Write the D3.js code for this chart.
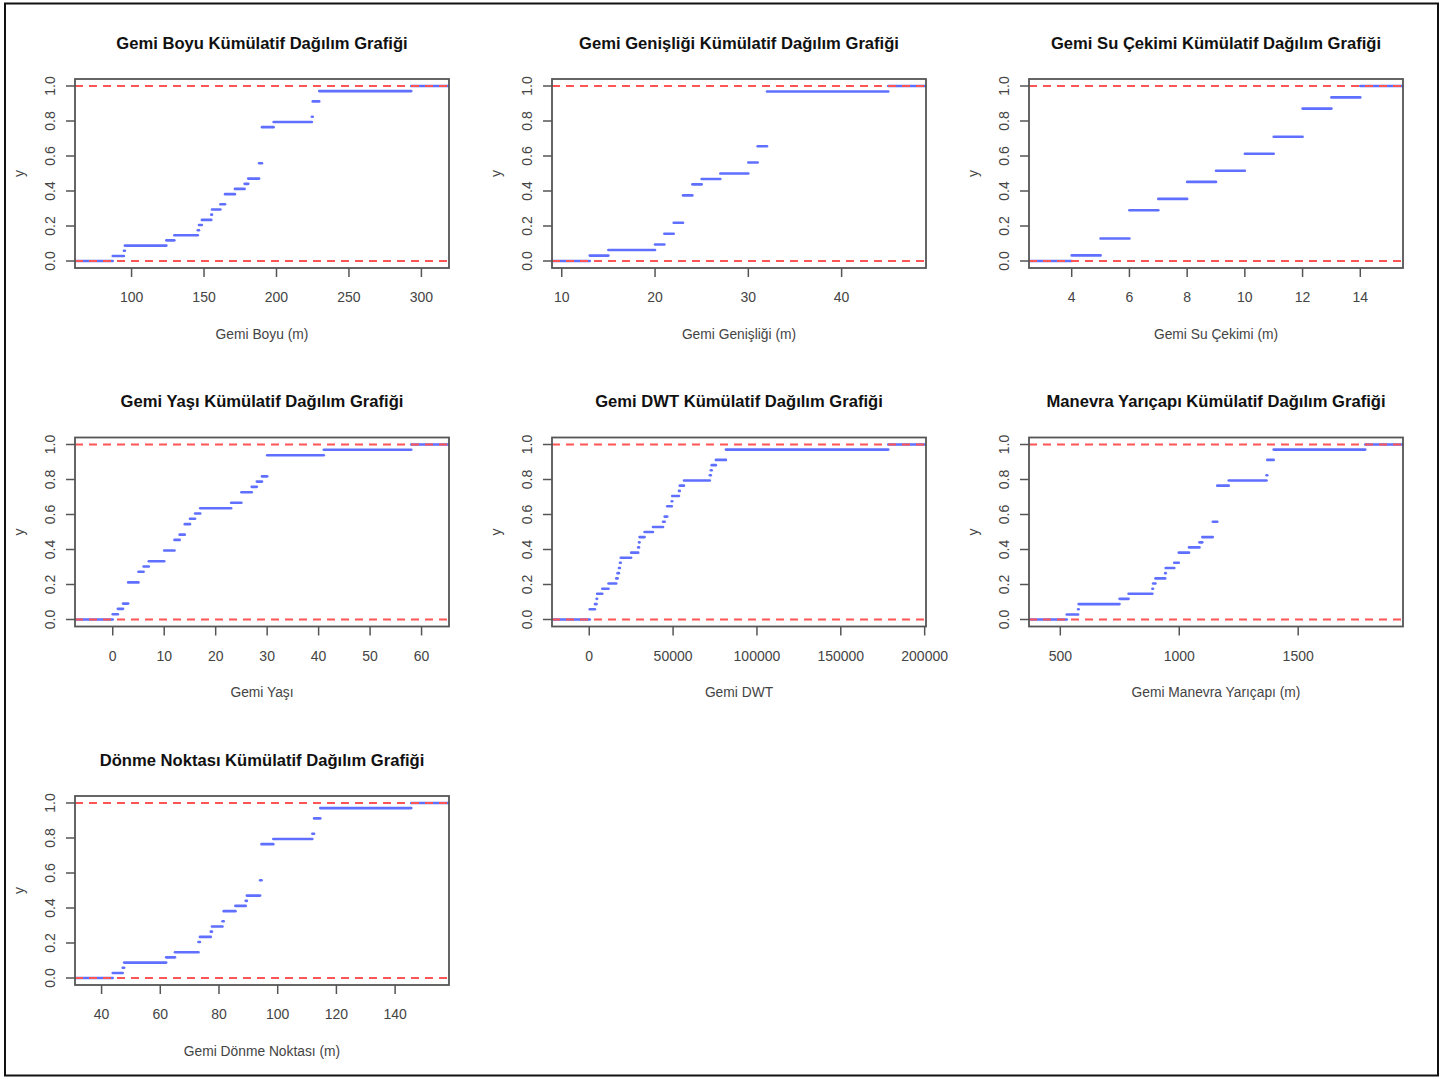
<!DOCTYPE html>
<html>
<head>
<meta charset="utf-8">
<script src="https://cdn.jsdelivr.net/npm/d3@7"></script>
<style>
  body { margin: 0; background: #fff; }
  svg { display: block; font-family: "Liberation Sans", Arial, sans-serif; }
</style>
</head>
<body>
<svg id="chart" width="1451" height="1079"></svg>
<script>
// ECDF knots (x) and cumulative levels (y)
const boyuX = [87, 94.7, 95.4, 124, 129.5, 145.7, 146.5, 148.5, 155, 155.5, 161.3, 164.5, 171.3, 178, 180.5, 188, 190, 198, 224.4, 225, 229.5, 293];
const boyuY = [0.029, 0.059, 0.088, 0.118, 0.147, 0.176, 0.206, 0.235, 0.265, 0.294, 0.324, 0.382, 0.412, 0.441, 0.471, 0.559, 0.765, 0.794, 0.824, 0.912, 0.971, 1];
const boyuTicks = [100, 150, 200, 250, 300];

const genislikX = [13, 15, 20, 21, 22, 23, 24, 25, 27, 30, 31, 32, 45];
const genislikY = [0.031, 0.063, 0.094, 0.156, 0.219, 0.375, 0.438, 0.469, 0.5, 0.563, 0.656, 0.969, 1];
const genislikTicks = [10, 20, 30, 40];

const cekimX = [4, 5, 6, 7, 8, 9, 10, 11, 12, 13, 14];
const cekimY = [0.032, 0.129, 0.290, 0.355, 0.452, 0.516, 0.613, 0.710, 0.871, 0.935, 1];
const cekimTicks = [4, 6, 8, 10, 12, 14];

const yasX = [0, 1, 2, 3, 5, 6, 7, 10, 12, 13, 14, 15, 16, 17, 23, 25, 27, 28, 29, 30, 41, 58];
const yasY = [0.030, 0.061, 0.091, 0.212, 0.273, 0.303, 0.333, 0.394, 0.455, 0.485, 0.545, 0.576, 0.606, 0.636, 0.667, 0.727, 0.758, 0.788, 0.818, 0.939, 0.970, 1];
const yasTicks = [0, 10, 20, 30, 40, 50, 60];

const dwtX = [300, 3400, 4400, 4700, 7800, 11500, 16100, 16900, 17700, 18300, 18800, 25000, 29200, 29700, 30000, 33000, 38000, 44000, 45000, 46500, 49200, 49500, 53500, 54000, 56500, 71900, 72500, 73000, 75500, 81500, 178300];
const dwtY = [0.059, 0.088, 0.118, 0.147, 0.176, 0.206, 0.235, 0.265, 0.294, 0.324, 0.353, 0.382, 0.412, 0.441, 0.471, 0.5, 0.529, 0.559, 0.588, 0.647, 0.676, 0.706, 0.735, 0.765, 0.794, 0.824, 0.853, 0.882, 0.912, 0.971, 1];
const dwtTicks = [0, 50000, 100000, 150000, 200000];

const manevraX = [527, 575, 577, 749, 787, 887, 890, 900, 941, 943, 979, 998, 1041, 1085, 1097, 1141, 1160, 1208, 1367, 1370, 1397, 1782];
const manevraY = [0.029, 0.059, 0.088, 0.118, 0.147, 0.176, 0.206, 0.235, 0.265, 0.294, 0.324, 0.382, 0.412, 0.441, 0.471, 0.559, 0.765, 0.794, 0.824, 0.912, 0.971, 1];
const manevraTicks = [500, 1000, 1500];

const donmeX = [43.8, 47.2, 47.7, 62, 65, 73, 73.5, 77.2, 77.6, 81.2, 81.6, 85.6, 89.1, 89.5, 94, 94.5, 98.5, 111.8, 112.4, 114.5, 145.5];
const donmeY = [0.029, 0.059, 0.088, 0.118, 0.147, 0.206, 0.235, 0.265, 0.294, 0.324, 0.382, 0.412, 0.441, 0.471, 0.559, 0.765, 0.794, 0.824, 0.912, 0.971, 1];
const donmeTicks = [40, 60, 80, 100, 120, 140];

const yTicks = [0, 0.2, 0.4, 0.6, 0.8, 1.0];

const panels = [
  { title: "Gemi Boyu Kümülatif Dağılım Grafiği", xlab: "Gemi Boyu (m)", x: boyuX, y: boyuY, ticks: boyuTicks },
  { title: "Gemi Genişliği Kümülatif Dağılım Grafiği", xlab: "Gemi Genişliği (m)", x: genislikX, y: genislikY, ticks: genislikTicks },
  { title: "Gemi Su Çekimi Kümülatif Dağılım Grafiği", xlab: "Gemi Su Çekimi (m)", x: cekimX, y: cekimY, ticks: cekimTicks },
  { title: "Gemi Yaşı Kümülatif Dağılım Grafiği", xlab: "Gemi Yaşı", x: yasX, y: yasY, ticks: yasTicks },
  { title: "Gemi DWT Kümülatif Dağılım Grafiği", xlab: "Gemi DWT", x: dwtX, y: dwtY, ticks: dwtTicks },
  { title: "Manevra Yarıçapı Kümülatif Dağılım Grafiği", xlab: "Gemi Manevra Yarıçapı (m)", x: manevraX, y: manevraY, ticks: manevraTicks },
  { title: "Dönme Noktası Kümülatif Dağılım Grafiği", xlab: "Gemi Dönme Noktası (m)", x: donmeX, y: donmeY, ticks: donmeTicks }
];

const svg = d3.select("#chart");
const colLeft = [75, 552, 1029];
const rowTop = [79, 437.5, 796];
const boxW = 374, boxH = 189;
const blue = "#5f6fff", red = "#ff5555", frame = "#555";

svg.append("rect")
  .attr("x", 5).attr("y", 3.5).attr("width", 1433).attr("height", 1072)
  .attr("fill", "none").attr("stroke", "#111").attr("stroke-width", 2);

panels.forEach((p, i) => {
  const left = colLeft[i % 3], top = rowTop[Math.floor(i / 3)];
  const g = svg.append("g").attr("transform", `translate(${left},${top})`);

  // same x range rule as R's plot.stepfun, plus the 4% axis padding
  const rx = d3.extent(p.x);
  const dr = Math.max(0.08 * (rx[1] - rx[0]), d3.median(d3.pairs(p.x, (a, b) => b - a)));
  const lim = [rx[0] - dr, rx[1] + dr];
  const pad = 0.04 * (lim[1] - lim[0]);
  const x = d3.scaleLinear().domain([lim[0] - pad, lim[1] + pad]).range([0, boxW]);
  const y = d3.scaleLinear().domain([-0.04, 1.04]).range([boxH, 0]);

  const clipId = "clip" + i;
  g.append("clipPath").attr("id", clipId)
    .append("rect").attr("width", boxW).attr("height", boxH);

  const steps = [{ x0: lim[0] - dr, x1: p.x[0], v: 0 }];
  p.x.forEach((k, j) => {
    steps.push({ x0: k, x1: j + 1 < p.x.length ? p.x[j + 1] : lim[1] + dr, v: p.y[j] });
  });

  const plot = g.append("g").attr("clip-path", `url(#${clipId})`);
  plot.selectAll("line.step").data(steps).join("line")
    .attr("class", "step")
    .attr("x1", d => x(d.x0)).attr("x2", d => x(d.x1))
    .attr("y1", d => y(d.v)).attr("y2", d => y(d.v))
    .attr("stroke", blue).attr("stroke-width", 2.6)
    .attr("stroke-linecap", "round");

  plot.selectAll("line.ref").data([0, 1]).join("line")
    .attr("class", "ref")
    .attr("x1", 0).attr("x2", boxW)
    .attr("y1", d => y(d)).attr("y2", d => y(d))
    .attr("stroke", red).attr("stroke-width", 2.2)
    .attr("stroke-dasharray", "8,6");

  g.append("rect").attr("width", boxW).attr("height", boxH)
    .attr("fill", "none").attr("stroke", frame).attr("stroke-width", 1.8);

  // x axis
  const xa = g.append("g").attr("transform", `translate(0,${boxH})`);
  xa.selectAll("line").data(p.ticks).join("line")
    .attr("x1", d => x(d)).attr("x2", d => x(d))
    .attr("y1", 0).attr("y2", 9)
    .attr("stroke", frame).attr("stroke-width", 1.5);
  xa.selectAll("text").data(p.ticks).join("text")
    .attr("x", d => x(d)).attr("y", 29)
    .attr("text-anchor", "middle").attr("dominant-baseline", "central")
    .attr("font-size", 14).attr("fill", "#444")
    .text(d => d);

  // y axis
  const ya = g.append("g");
  ya.selectAll("line").data(yTicks).join("line")
    .attr("x1", 0).attr("x2", -9)
    .attr("y1", d => y(d)).attr("y2", d => y(d))
    .attr("stroke", frame).attr("stroke-width", 1.5);
  ya.selectAll("text").data(yTicks).join("text")
    .attr("transform", d => `translate(-25,${y(d)}) rotate(-90)`)
    .attr("text-anchor", "middle").attr("dominant-baseline", "central")
    .attr("font-size", 14).attr("fill", "#444")
    .text(d => d.toFixed(1));

  g.append("text")
    .attr("transform", `translate(-56,${boxH / 2}) rotate(-90)`)
    .attr("text-anchor", "middle").attr("dominant-baseline", "central")
    .attr("font-size", 14).attr("fill", "#444")
    .text("y");

  g.append("text")
    .attr("x", boxW / 2).attr("y", boxH + 66)
    .attr("text-anchor", "middle").attr("dominant-baseline", "central")
    .attr("font-size", 13.8).attr("fill", "#444")
    .text(p.xlab);

  g.append("text")
    .attr("x", boxW / 2).attr("y", -36)
    .attr("text-anchor", "middle").attr("dominant-baseline", "central")
    .attr("font-size", 16.6).attr("font-weight", "bold").attr("fill", "#111")
    .text(p.title);
});
</script>
</body>
</html>
